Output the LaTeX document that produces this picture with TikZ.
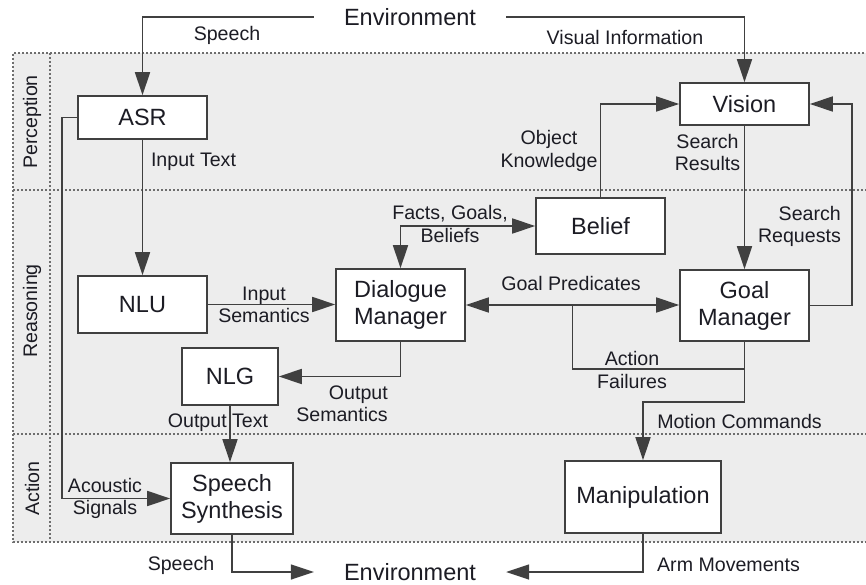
\documentclass[tikz,border=0pt]{standalone}
\usepackage{fontspec}
\setmainfont{Liberation Sans}
\usetikzlibrary{arrows.meta, calc}
\definecolor{LaneGray}{HTML}{EDEDED}
\definecolor{WireGray}{HTML}{404040}
\definecolor{DotGray}{HTML}{6E6E6E}
\definecolor{InkBlack}{HTML}{1C1C24}

\begin{document}
\begin{tikzpicture}[x=1pt, y=-1pt,
    block/.style={draw=WireGray, fill=white, line width=1.6pt, inner sep=0pt, align=center, text=InkBlack, font=\fontsize{23.5}{27}\selectfont},
    envtext/.style={inner ysep=0pt, inner xsep=30pt, text=InkBlack, font=\fontsize{23.5}{27}\selectfont},
    lbl/.style={inner sep=0pt, align=center, text=InkBlack, font=\fontsize{19.6}{22.5}\selectfont},
    wire/.style={draw=WireGray, line width=1.6pt},
    arr/.style={wire, -{Triangle[length=23pt, width=15pt]}},
    darr/.style={wire, {Triangle[length=23pt, width=15pt]}-{Triangle[length=23pt, width=15pt]}},
    lane/.style={draw=DotGray, line width=1.4pt, dash pattern=on 2pt off 2pt}]
    \useasboundingbox (0,0) rectangle (866,585);

    % layers
    \fill[LaneGray] (13,53) rectangle (872,542);
    \draw[lane] (872,53) -- (13,53) -- (13,542) -- (872,542);
    \draw[lane] (50,53) -- (50,542);
    \draw[lane] (13,190) -- (872,190);
    \draw[lane] (13,434) -- (872,434);
    \node[lbl, rotate=90] (perception) at (32,122) {Perception};
    \node[lbl, rotate=90] (reasoning) at (32,311) {Reasoning};
    \node[lbl, rotate=90] (action) at (32,488.5) {Action};

    % modules
    \node[envtext] (envtop) at (410,17) {Environment};
    \node[envtext] (envbot) at (410,572) {Environment};
    \node[block, minimum width=129pt, minimum height=43pt] (asr) at (142.5,117.5) {ASR};
    \node[block, minimum width=129pt, minimum height=42pt] (vision) at (744.5,104) {Vision};
    \node[block, minimum width=129pt, minimum height=57pt] (nlu) at (142.5,304.5) {NLU};
    \node[block, minimum width=129pt, minimum height=72pt] (dm) at (400.5,305) {Dialogue\\Manager};
    \node[block, minimum width=96pt, minimum height=57pt] (nlg) at (230,376.5) {NLG};
    \node[block, minimum width=129pt, minimum height=56pt] (belief) at (600.5,226) {Belief};
    \node[block, minimum width=129pt, minimum height=71pt] (gm) at (744.5,305.5) {Goal\\Manager};
    \node[block, minimum width=122pt, minimum height=71pt] (synth) at (232,498.5) {Speech\\Synthesis};
    \node[block, minimum width=156pt, minimum height=72pt] (manip) at (643,497) {Manipulation};
    \coordinate (afjoin) at ($(dm.east)!0.5!(gm.west)$);

    % connections
    \draw[arr] (envtop.west) -| (asr.north);
    \draw[arr] (envtop.east) -| (vision.north);
    \draw[arr] (asr.south) -- (nlu.north);
    \draw[arr] (asr.west) -- ++(-15,0) |- (synth.west);
    \draw[arr] (nlu.east) -- (nlu.east -| dm.west);
    \draw[arr] (dm.south) |- (nlg.east);
    \draw[arr] (nlg.south) -- (nlg.south |- synth.north);
    \draw[arr] (synth.south) |- (envbot.west);
    \draw[arr] (manip.south) |- (envbot.east);
    \draw[darr] (dm.north) |- (belief.west);
    \draw[arr] (belief.north) |- (vision.west);
    \draw[arr] (vision.south) -- (gm.north);
    \draw[arr] (gm.east) -- ++(42,0) |- (vision.east);
    \draw[darr] (dm.east) -- (dm.east -| gm.west);
    \draw[wire] (gm.south) -- ++(0,27) -| (afjoin);
    \draw[arr] (gm.south) -- ++(0,60) -| (manip.north);

    % labels
    \node[lbl] (lspeechin) at (227,35) {Speech};
    \node[lbl] (lvisual) at (625,37) {Visual Information};
    \node[lbl] (linputtext) at (193.5,162) {Input Text};
    \node[lbl] (lacoustic) at (105,498.5) {Acoustic\\Signals};
    \node[lbl] (linputsem) at (264,305) {Input\\Semantics};
    \node[lbl, align=right, anchor=east] (loutputsem) at (388,403.5) {Output\\Semantics};
    \node[lbl] (loutputtext) at (218,423) {Output Text};
    \node[lbl] (lspeechout) at (181,565) {Speech};
    \node[lbl] (larm) at (728.5,565) {Arm Movements};
    \node[lbl] (lfacts) at (450,224) {Facts, Goals,\\Beliefs};
    \node[lbl] (lobject) at (549,151) {Object\\Knowledge};
    \node[lbl] (lresults) at (707.5,152.5) {Search\\Results};
    \node[lbl, align=right, anchor=east] (lrequests) at (841,226.5) {Search\\Requests};
    \node[lbl] (lpredicates) at (571,283) {Goal Predicates};
    \node[lbl] (lfailures) at (632,370) {Action\\Failures};
    \node[lbl] (lmotion) at (739.5,421) {Motion Commands};
\end{tikzpicture}
\end{document}
